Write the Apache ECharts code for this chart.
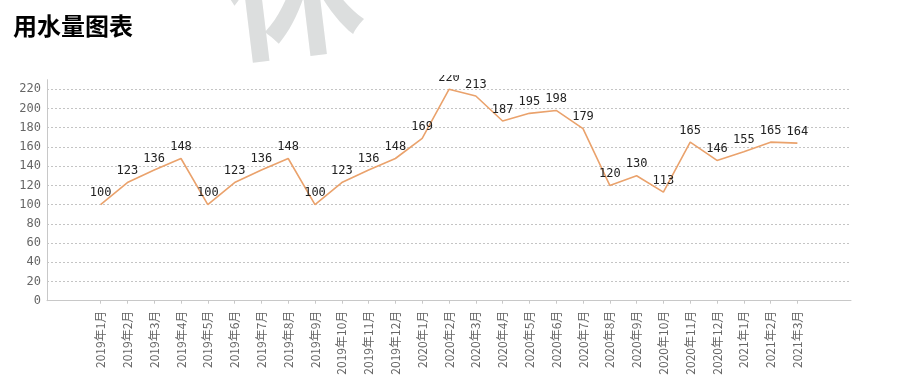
<!DOCTYPE html>
<html>
<head>
<meta charset="utf-8">
<script src="https://cdn.jsdelivr.net/npm/echarts@6/dist/echarts.min.js"></script>
<style>
html,body{margin:0;padding:0;background:#fff;}
#chart{width:901px;height:389px;}
</style>
</head>
<body>
<div id="chart"></div>
<script>
const titleText = '用水量图表';
const months = ['2019年1月','2019年2月','2019年3月','2019年4月','2019年5月','2019年6月','2019年7月','2019年8月','2019年9月','2019年10月','2019年11月','2019年12月',
  '2020年1月','2020年2月','2020年3月','2020年4月','2020年5月','2020年6月','2020年7月','2020年8月','2020年9月','2020年10月','2020年11月','2020年12月',
  '2021年1月','2021年2月','2021年3月'];
const usage = [100,123,136,148,100,123,136,148,100,123,136,148,
  169,220,213,187,195,198,179,120,130,113,165,146,
  155,165,164];
const padBefore = 2;
const padAfter = 2;
const yMin = 0;
const yMax = 230;
const yInterval = 20;

const cats = Array(padBefore).fill('').concat(months, Array(padAfter).fill(''));
const vals = Array(padBefore).fill(null).concat(usage, Array(padAfter).fill(null));

const chart = echarts.init(document.getElementById('chart'));
chart.setOption({
  animation: false,
  backgroundColor: '#fff',
  title: {
    text: titleText,
    left: 8, top: 9,
    textStyle: {fontFamily: 'Noto Sans CJK SC', fontSize: 24, fontWeight: 'bold', color: '#000'}
  },
  graphic: [
    {type: 'rect', z: 100, shape: {x: 0, y: 63, width: 901, height: 12}, style: {fill: '#fff'}},
    {type: 'text', z: 101, x: 292, y: -8, rotation: 0.12,
      style: {text: '休', font: 'bold 140px "Noto Sans CJK SC"', fill: '#dcdede', align: 'center', verticalAlign: 'middle'}}
  ],
  grid: {left: 47, right: 50, top: 79.7, bottom: 88.3, containLabel: false},
  xAxis: {
    type: 'category',
    data: cats,
    boundaryGap: false,
    offset: 3,
    axisLine: {lineStyle: {color: '#c8c8c8', width: 1}},
    axisTick: {show: true, length: 3, interval: (i, v) => v !== '', lineStyle: {color: '#c8c8c8'}},
    axisLabel: {interval: 0, rotate: 90, margin: 7, color: '#666', fontSize: 12, fontFamily: 'Noto Sans CJK SC'},
    splitLine: {show: false}
  },
  yAxis: {
    type: 'value',
    min: yMin, max: yMax, interval: yInterval,
    axisLine: {show: true, lineStyle: {color: '#c8c8c8'}},
    axisTick: {show: false},
    axisLabel: {showMaxLabel: false, margin: 6, color: '#666', fontSize: 12, fontFamily: 'DejaVu Sans Mono'},
    splitLine: {show: true, showMinLine: false, showMaxLine: false, lineStyle: {color: '#c4c4c4', type: [2, 2], width: 1}}
  },
  series: [{
    type: 'line',
    data: vals,
    symbol: 'circle',
    symbolSize: 1,
    showSymbol: true,
    lineStyle: {color: '#eaa26c', width: 1.6},
    itemStyle: {color: 'rgba(0,0,0,0)'},
    label: {show: true, position: 'top', distance: 5, color: '#222', fontSize: 12, fontFamily: 'DejaVu Sans Mono'}
  }]
});
</script>
</body>
</html>
